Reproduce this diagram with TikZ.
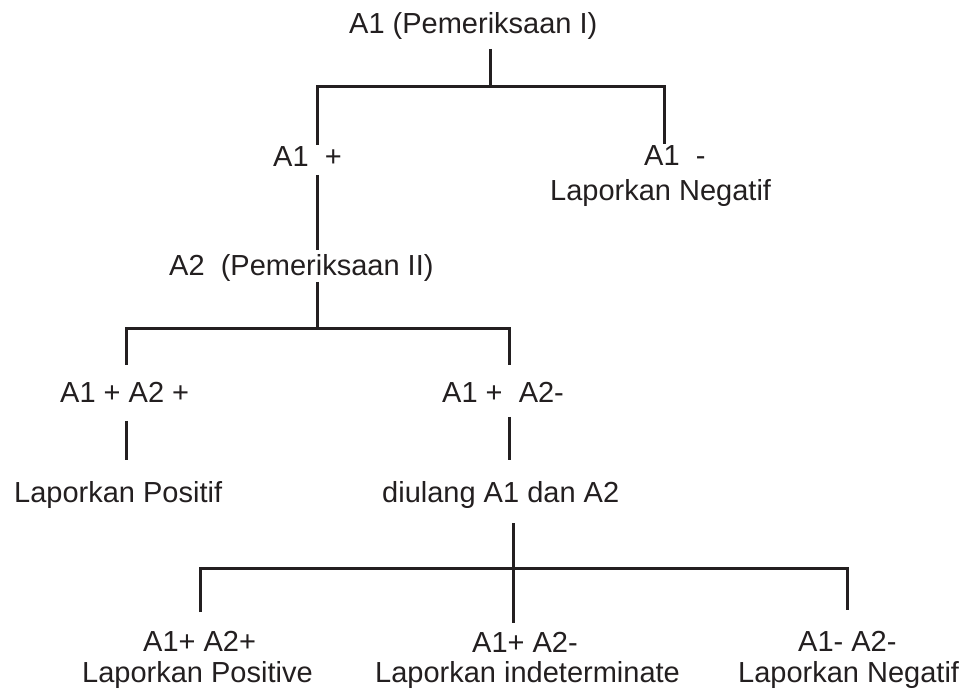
\documentclass[tikz,border=0pt]{standalone}
\usepackage{fontspec}
\setmainfont{Liberation Sans}
\definecolor{ink}{RGB}{35,31,32}
\begin{document}
\begin{tikzpicture}[x=1pt,y=-1pt,
  lbl/.style={anchor=base west,inner sep=0pt,text=ink,font=\fontsize{29}{35}\selectfont},
  conn/.style={draw=ink,line width=3pt,line join=miter}]
\useasboundingbox[fill=white] (0,0) rectangle (967,692);
% texts
\node[lbl] (a1) at (349,34) {A1 (Pemeriksaan I)};
\node[lbl] (a1p) at (273,167) {A1~~+};
\node[lbl] (a1n) at (644,166) {A1~~-};
\node[lbl] (lneg1) at (550,201) {Laporkan Negatif};
\node[lbl] (a2) at (169,276) {A2~~(Pemeriksaan II)};
\node[lbl] (pp) at (60,403) {A1 + A2 +};
\node[lbl] (pn) at (442,403) {A1 +~~A2-};
\node[lbl] (lpos) at (14,503) {Laporkan Positif};
\node[lbl] (ulang) at (382,503) {diulang A1 dan A2};
\node[lbl] (r1) at (143,651) {A1+ A2+};
\node[lbl] (r1b) at (82,682) {Laporkan Positive};
\node[lbl] (r2) at (472,652) {A1+ A2-};
\node[lbl] (r2b) at (375,682) {Laporkan indeterminate};
\node[lbl] (r3) at (798,651) {A1- A2-};
\node[lbl] (r3b) at (738,682) {Laporkan Negatif};
% junction and end coordinates
\coordinate (c1a) at (490.7,49);
\coordinate (c1b) at (490.7,87);
\coordinate (c1l) at (317.5,145);
\coordinate (c1r) at (664,144);
\coordinate (c2a) at (317.5,175);
\coordinate (c2b) at (317.5,250);
\coordinate (c3a) at (317.5,282);
\coordinate (c3b) at (317.5,329);
\coordinate (c3l) at (126,365);
\coordinate (c3r) at (509,365);
\coordinate (c4a) at (126,421);
\coordinate (c4b) at (126,460);
\coordinate (c5a) at (509,417);
\coordinate (c5b) at (509,460);
\coordinate (c6a) at (513,523);
\coordinate (c6b) at (513,623);
\coordinate (c6l) at (200,612);
\coordinate (c6r) at (847,610);
% connectors
\draw[conn] (c1a) -- (c1b);
\draw[conn] (c1l) |- (c1b) -| (c1r);
\draw[conn] (c2a) -- (c2b);
\draw[conn] (c3a) -- (c3b);
\draw[conn] (c3l) |- (c3b) -| (c3r);
\draw[conn] (c4a) -- (c4b);
\draw[conn] (c5a) -- (c5b);
\draw[conn] (c6a) -- (c6b);
\draw[conn] (c6l) |- (513,568) -| (c6r);
\end{tikzpicture}
\end{document}
